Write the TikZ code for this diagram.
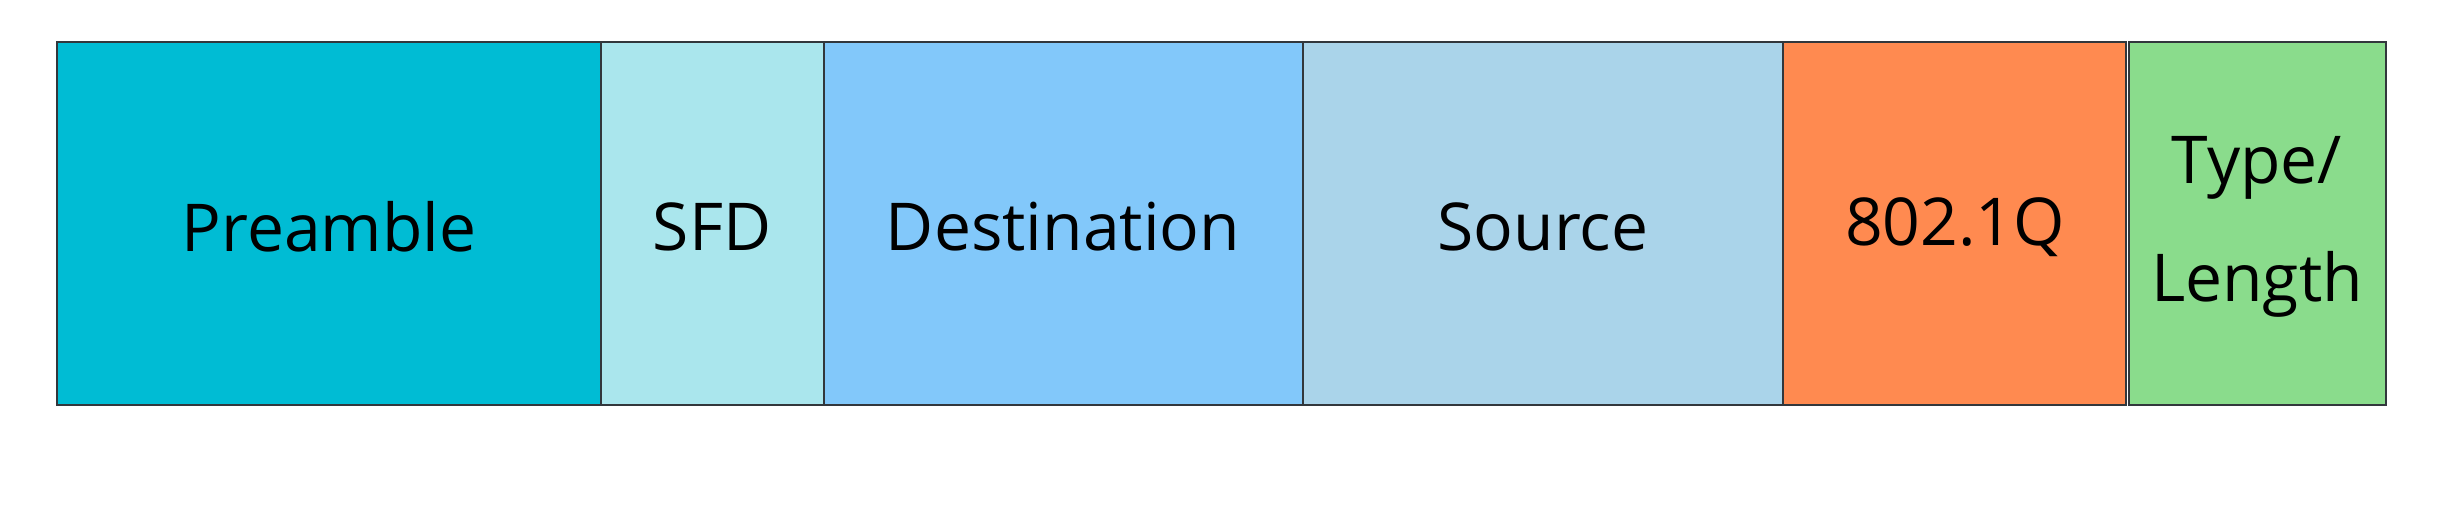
\documentclass[tikz,border=0pt]{standalone}
\usepackage{fontspec}
\setmainfont{Open Sans}
\definecolor{cPre}{RGB}{0,188,212}
\definecolor{cSFD}{RGB}{170,230,237}
\definecolor{cDst}{RGB}{130,200,250}
\definecolor{cSrc}{RGB}{170,212,234}
\definecolor{cQ}{RGB}{255,138,80}
\definecolor{cTL}{RGB}{138,220,140}
\definecolor{edge}{RGB}{50,55,60}
\begin{document}
\begin{tikzpicture}[x=1pt,y=-1pt,
  field/.style={draw=edge,line width=1.5pt},
  lab/.style={font=\fontsize{66}{118}\selectfont,text=black,align=center}]
\useasboundingbox[fill=white] (0,0) rectangle (2453,504);
\filldraw[field,fill=cPre] (57,42) rectangle (601,405);
\filldraw[field,fill=cSFD] (601,42) rectangle (824,405);
\filldraw[field,fill=cDst] (824,42) rectangle (1303,405);
\filldraw[field,fill=cSrc] (1303,42) rectangle (1783,405);
\filldraw[field,fill=cQ] (1783,42) rectangle (2126,405);
\filldraw[field,fill=cTL] (2129,42) rectangle (2386,405);
\node[lab] (pre) at (329,227) {Preamble};
\node[lab] (sfd) at (712,227) {SFD};
\node[lab] (dst) at (1063,227) {Destination};
\node[lab] (src) at (1543,227) {Source};
\node[lab] (q) at (1955,227) {802.1Q};
\node[lab] (tl) at (2257,227) {Type/\\Length};
\end{tikzpicture}
\end{document}
